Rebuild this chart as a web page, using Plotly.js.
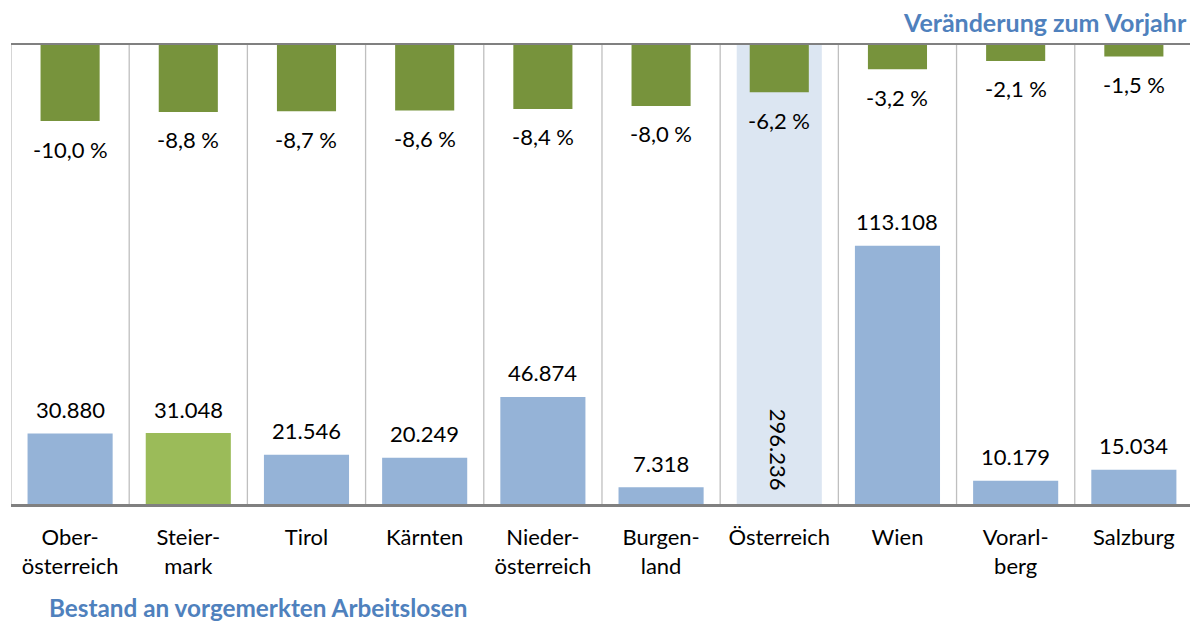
<!DOCTYPE html>
<html>
<head>
<meta charset="utf-8">
<script src="https://cdn.plot.ly/plotly-3.0.1.min.js"></script>
<style>
  html, body { margin: 0; padding: 0; background: #ffffff; }
  #chart { width: 1190px; height: 623px; }
</style>
</head>
<body>
<div id="chart"></div>
<script>
// ---- data ----
const categories = ["Ober-<br>österreich", "Steier-<br>mark", "Tirol", "Kärnten", "Nieder-<br>österreich", "Burgen-<br>land", "Österreich", "Wien", "Vorarl-<br>berg", "Salzburg"];
const bestand = [30880, 31048, 21546, 20249, 46874, 7318, 296236, 113108, 10179, 15034];
const veraenderung = [-10.0, -8.8, -8.7, -8.6, -8.4, -8.0, -6.2, -3.2, -2.1, -1.5];
const titleTop = "Veränderung zum Vorjahr";
const titleBottom = "Bestand an vorgemerkten Arbeitslosen";

// ---- helpers ----
function fmtThousands(v) {
  return String(v).replace(/\B(?=(\d{3})+(?!\d))/g, ".");
}
function fmtPct(v) {
  return v.toFixed(1).replace(".", ",") + " %";
}

const FONT = "Lato, 'Open Sans', sans-serif";
const BLUE = "#95B3D7";
const GREEN_LIGHT = "#9BBB59";
const GREEN_DARK = "#77933C";
const TOTAL_BG = "#DCE6F2";
const totalIdx = categories.indexOf("Österreich");
const highlightIdx = categories.indexOf("Steier-<br>mark");

const xs = categories.map((c, i) => i);
const barColors = categories.map((c, i) => i === totalIdx ? TOTAL_BG : (i === highlightIdx ? GREEN_LIGHT : BLUE));

const traceBestand = {
  type: "bar",
  x: xs,
  y: bestand,
  width: 0.72,
  marker: { color: barColors, line: { width: 0 } },
  xaxis: "x",
  yaxis: "y",
  hoverinfo: "skip",
  cliponaxis: true
};

const traceVer = {
  type: "bar",
  x: xs,
  y: veraenderung,
  width: 0.5,
  marker: { color: GREEN_DARK, line: { width: 0 } },
  xaxis: "x",
  yaxis: "y2",
  hoverinfo: "skip"
};

const annotations = [];
xs.forEach((x, i) => {
  annotations.push({
    x: x, y: veraenderung[i], xref: "x", yref: "y2",
    text: fmtPct(veraenderung[i]),
    showarrow: false, yanchor: "middle", xanchor: "center",
    yshift: -28,
    font: { family: FONT, size: 22, color: "#000000" }
  });
  if (i === totalIdx) {
    annotations.push({
      x: x, y: 0, xref: "x", yref: "y",
      text: fmtThousands(bestand[i]),
      showarrow: false, textangle: 90,
      yanchor: "bottom", xanchor: "center",
      yshift: 11,
      font: { family: FONT, size: 22, color: "#000000" }
    });
  } else {
    annotations.push({
      x: x, y: bestand[i], xref: "x", yref: "y",
      text: fmtThousands(bestand[i]),
      showarrow: false, yanchor: "middle", xanchor: "center",
      yshift: 24,
      font: { family: FONT, size: 22, color: "#000000" }
    });
  }
});

annotations.push({
  x: 1, y: 1, xref: "paper", yref: "paper",
  text: "<b>" + titleTop + "</b>",
  showarrow: false, xanchor: "right", yanchor: "middle",
  xshift: -1, yshift: 23,
  font: { family: FONT, size: 25, color: "#4F81BD" }
});
annotations.push({
  x: 0, y: 0, xref: "paper", yref: "paper",
  text: "<b>" + titleBottom + "</b>",
  showarrow: false, xanchor: "left", yanchor: "middle",
  xshift: 36, yshift: -103,
  font: { family: FONT, size: 24.3, color: "#4F81BD" }
});

const layout = {
  width: 1190,
  height: 623,
  margin: { l: 11, r: 0, t: 45, b: 119, pad: 0 },
  paper_bgcolor: "#ffffff",
  plot_bgcolor: "#ffffff",
  showlegend: false,
  barmode: "overlay",
  xaxis: {
    type: "linear",
    range: [-0.5, 9.475],
    tickmode: "array",
    tickvals: xs,
    ticktext: categories,
    ticks: "",
    ticklabelstandoff: 12,
    showgrid: false,
    zeroline: false,
    showline: true,
    mirror: true,
    linecolor: "#808080",
    linewidth: 2.5,
    tickfont: { family: FONT, size: 22, color: "#000000" },
    fixedrange: true
  },
  yaxis: {
    range: [0, 201000],
    showgrid: false,
    zeroline: false,
    showticklabels: false,
    ticks: "",
    showline: false,
    fixedrange: true
  },
  yaxis2: {
    range: [-60.3, 0],
    overlaying: "y",
    showgrid: false,
    zeroline: false,
    showticklabels: false,
    ticks: "",
    showline: false,
    fixedrange: true
  },
  shapes: xs.concat([xs.length]).map(i => ({
    type: "line", xref: "x", yref: "paper",
    x0: i - 0.5, x1: i - 0.5, y0: 0, y1: 1,
    line: { color: "#BFBFBF", width: 1.3 },
    layer: "below"
  })),
  annotations: annotations
};

Plotly.newPlot("chart", [traceBestand, traceVer], layout, { displayModeBar: false, staticPlot: true });
</script>
</body>
</html>
